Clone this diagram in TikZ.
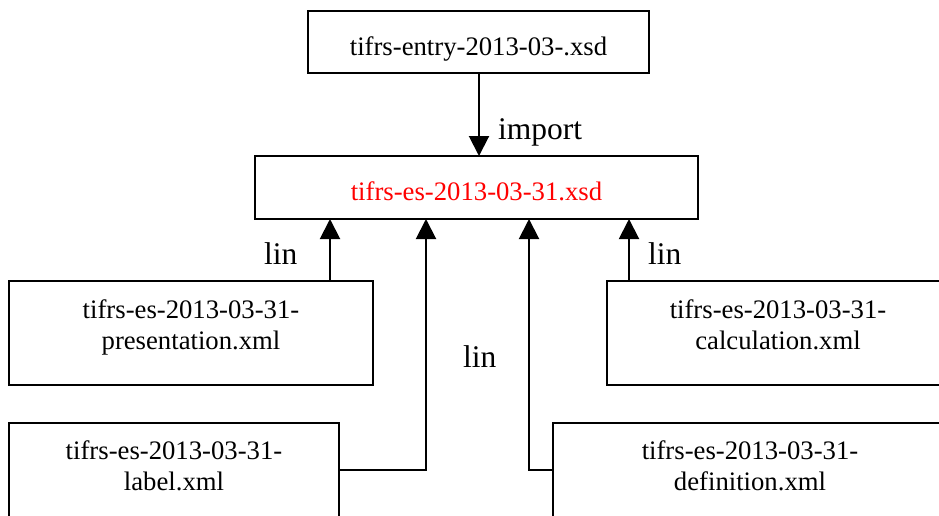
\documentclass[tikz,border=0pt]{standalone}
\usepackage{fontspec}
\setmainfont{Liberation Serif}
\usetikzlibrary{arrows.meta}
\definecolor{schemared}{RGB}{255,0,0}
\begin{document}
\begin{tikzpicture}[x=1pt,y=-1pt,
  filebox/.style={draw=black,line width=2pt,inner sep=0pt,minimum height=#1},
  fname/.style={anchor=base,inner sep=0pt,font=\fontsize{26.7}{30}\selectfont},
  rel/.style={anchor=base west,inner sep=0pt,font=\fontsize{31.5}{34}\selectfont},
  arr/.style={line width=2pt,-{Triangle[width=20pt,length=20pt]}},
  link/.style={line width=2pt}]
\useasboundingbox (0,0) rectangle (939,515);
\clip (0,0) rectangle (939,515);

% file boxes
\node[filebox=62pt,minimum width=341pt] (entry) at (478.5,42) {};
\node[filebox=63pt,minimum width=443pt] (es)    at (476.5,187.5) {};
\node[filebox=104pt,minimum width=364pt] (pres) at (191,333) {};
\node[filebox=104pt,minimum width=342pt] (calc) at (778,333) {};
\node[filebox=94pt,minimum width=330pt] (lab)   at (174,470) {};
\node[filebox=94pt,minimum width=394pt] (defn)  at (750,470) {};

% file names
\node[fname] (entryT) at (478.5,55) {tifrs-entry-2013-03-.xsd};
\node[fname,text=schemared] (esT) at (476.5,200) {tifrs-es-2013-03-31.xsd};
\node[fname] (presA) at (191,318) {tifrs-es-2013-03-31-};
\node[fname] (presB) at (191,349) {presentation.xml};
\node[fname] (calcA) at (778,318) {tifrs-es-2013-03-31-};
\node[fname] (calcB) at (778,349) {calculation.xml};
\node[fname] (labA)  at (174,459) {tifrs-es-2013-03-31-};
\node[fname] (labB)  at (174,490) {label.xml};
\node[fname] (defA)  at (750,459) {tifrs-es-2013-03-31-};
\node[fname] (defB)  at (750,490) {definition.xml};

% arrival points on the lower edge of the schema box
\coordinate (inP) at (330,219);
\coordinate (inL) at (426,219);
\coordinate (inD) at (529,219);
\coordinate (inC) at (629,219);
\coordinate (inE) at (479,156);

% connectors
\draw[arr] (entry.south -| inE) -- (inE);
\draw[arr] (pres.north -| inP) -- (inP);
\draw[arr] (calc.north -| inC) -- (inC);
\draw[arr] (lab.east) -| (inL);
\draw[arr] (defn.west) -| (inD);

% relation labels
\node[rel] (lImp) at (498,139) {import};
\node[rel] (lP)   at (264,264) {lin};
\node[rel] (lC)   at (648,264) {lin};
\node[rel] (lM)   at (463,367) {lin};
\end{tikzpicture}
\end{document}
